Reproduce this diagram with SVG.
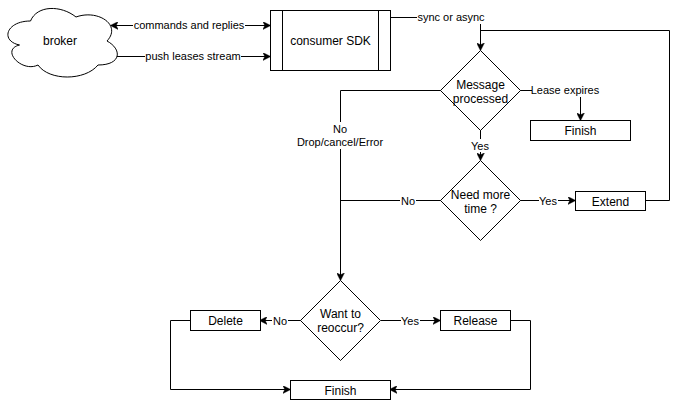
<svg xmlns="http://www.w3.org/2000/svg" width="679" height="402" viewBox="0 0 679 402">
<defs>
<style>
.shape{fill:#fff;stroke:#000;stroke-width:1}
.edge{fill:none;stroke:#000;stroke-width:1}
.t{font-family:"Liberation Sans",Arial,sans-serif;font-size:12px;fill:#000;text-anchor:middle}
.el{font-family:"Liberation Sans",Arial,sans-serif;font-size:11px;fill:#000;text-anchor:middle}
.bg{fill:#fff;stroke:none}
</style>
<marker id="arr" viewBox="0 0 10 10" refX="9" refY="5" markerWidth="8" markerHeight="8" markerUnits="userSpaceOnUse" orient="auto-start-reverse">
<path d="M0,0 L10,5 L0,10 L2.5,5 Z" fill="#000" stroke="#000" stroke-width="0.5"/>
</marker>
</defs>
<rect width="679" height="402" fill="#fff"/>

<g id="connectors">
<path class="edge" d="M111,25.5 L270,25.5" marker-start="url(#arr)" marker-end="url(#arr)"/>
<path class="edge" d="M116,56.5 L270,56.5" marker-end="url(#arr)"/>
<path class="edge" d="M390,17.5 L480.5,17.5 L480.5,50" marker-end="url(#arr)"/>
<path class="edge" d="M645,200.5 L669.5,200.5 L669.5,30.5 L480.5,30.5"/>
<path class="edge" d="M520,90.5 L580.5,90.5 L580.5,120" marker-end="url(#arr)"/>
<path class="edge" d="M441,90.5 L340.5,90.5 L340.5,280" marker-end="url(#arr)"/>
<path class="edge" d="M480.5,130 L480.5,160" marker-end="url(#arr)"/>
<path class="edge" d="M441,200.5 L340.5,200.5"/>
<path class="edge" d="M520,200.5 L575,200.5" marker-end="url(#arr)"/>
<path class="edge" d="M301,320.5 L260,320.5" marker-end="url(#arr)"/>
<path class="edge" d="M381,320.5 L440,320.5" marker-end="url(#arr)"/>
<path class="edge" d="M190,320.5 L170.5,320.5 L170.5,389.5 L290,389.5" marker-end="url(#arr)"/>
<path class="edge" d="M510,320.5 L530.5,320.5 L530.5,389.5 L390,389.5" marker-end="url(#arr)"/>
<rect class="bg" x="133" y="19" width="112" height="13"/>
<rect class="bg" x="145" y="50" width="96" height="13"/>
<rect class="bg" x="417" y="11" width="68" height="13"/>
<rect class="bg" x="532" y="84" width="67" height="13"/>
<rect class="bg" x="297" y="122" width="87" height="27"/>
<rect class="bg" x="471" y="139" width="19" height="13"/>
<rect class="bg" x="400" y="194" width="16" height="13"/>
<rect class="bg" x="539" y="194" width="19" height="13"/>
<rect class="bg" x="272" y="314" width="16" height="13"/>
<rect class="bg" x="401" y="314" width="19" height="13"/>
<text class="el" x="189" y="29">commands and replies</text>
<text class="el" x="193" y="60">push leases stream</text>
<text class="el" x="451" y="21">sync or async</text>
<text class="el" x="565" y="94">Lease expires</text>
<text class="el" x="340" y="133">No</text>
<text class="el" x="340" y="146">Drop/cancel/Error</text>
<text class="el" x="480" y="150">Yes</text>
<text class="el" x="408" y="205">No</text>
<text class="el" x="548" y="205">Yes</text>
<text class="el" x="280" y="325">No</text>
<text class="el" x="410" y="325">Yes</text>
</g>

<g id="broker">
<path class="shape" d="M30.5,21 C6,21 0,41 19.5,45 C0,49.8 22,73 38,65 C49,81 85,81 98,65 C122,65 122,49 107,41 C122,25 98,9 76,17 C61,5 37,5 30.5,21 Z"/>
<text class="t" x="60" y="45">broker</text>
</g>

<g id="consumer-sdk">
<rect class="shape" x="270.5" y="10.5" width="120" height="60"/>
<path class="edge" d="M282.5,10.5 V70.5 M378.5,10.5 V70.5"/>
<text class="t" x="330.5" y="45">consumer SDK</text>
</g>

<g id="message-processed">
<path class="shape" d="M480.5,50.5 L520.5,90.5 L480.5,130.5 L440.5,90.5 Z"/>
<text class="t" x="480.5" y="89">Message</text>
<text class="t" x="480.5" y="103">processed</text>
</g>

<g id="finish-lease">
<rect class="shape" x="530.5" y="120.5" width="100" height="20"/>
<text class="t" x="580.5" y="135">Finish</text>
</g>

<g id="need-more-time">
<path class="shape" d="M480.5,160.5 L520.5,200.5 L480.5,240.5 L440.5,200.5 Z"/>
<text class="t" x="480.5" y="199">Need more</text>
<text class="t" x="480.5" y="213">time ?</text>
</g>

<g id="extend">
<rect class="shape" x="575.5" y="191.5" width="70" height="19"/>
<text class="t" x="610.5" y="205.5">Extend</text>
</g>

<g id="want-to-reoccur">
<path class="shape" d="M340.5,280.5 L380.5,320.5 L340.5,360.5 L300.5,320.5 Z"/>
<text class="t" x="340.5" y="318">Want to</text>
<text class="t" x="340.5" y="332">reoccur?</text>
</g>

<g id="delete">
<rect class="shape" x="190.5" y="310.5" width="70" height="20"/>
<text class="t" x="225.5" y="325">Delete</text>
</g>

<g id="release">
<rect class="shape" x="440.5" y="310.5" width="70" height="20"/>
<text class="t" x="475.5" y="325">Release</text>
</g>

<g id="finish">
<rect class="shape" x="290.5" y="380.5" width="100" height="19"/>
<text class="t" x="340.5" y="394.5">Finish</text>
</g>
</svg>
